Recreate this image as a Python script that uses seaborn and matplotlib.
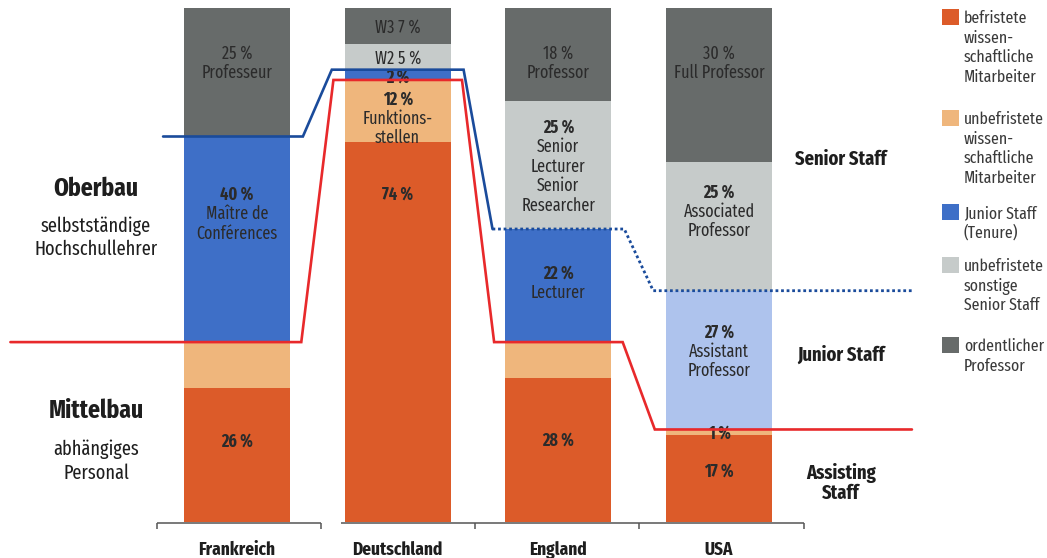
import matplotlib
matplotlib.use("Agg")
import matplotlib.pyplot as plt
import seaborn as sns
import numpy as np
from matplotlib.patches import Rectangle

# ---------------- data ----------------
countries = ["Frankreich", "Deutschland", "England", "USA"]
befristet = [26, 74, 28, 17]          # befristete wiss. Mitarbeiter
unbefristet = [9, 12, 7, 1]           # unbefristete wiss. Mitarbeiter
junior_tenure = [40, 2, 22, 0]        # Junior Staff (Tenure)
junior_other = [0, 0, 0, 27]          # Assistant Professor (USA)
senior_sonstige = [0, 5, 25, 25]      # unbefristete sonstige Senior Staff
professor = [25, 7, 18, 30]           # ordentlicher Professor

layers = [befristet, unbefristet, junior_tenure, junior_other, senior_sonstige, professor]

# bar labels: (country index, layer index, lines, bold first line)
bar_labels = [
    (0, 5, ["25 %", "Professeur"], False),
    (0, 2, ["40 %", "Maître de", "Conférences"], True),
    (0, 0, ["26 %"], True),
    (1, 5, ["W3 7 %"], False),
    (1, 4, ["W2 5 %"], False),
    (1, 2, ["2 %"], True),
    (1, 1, ["12 %", "Funktions-", "stellen"], True),
    (1, 0, ["74 %"], True),
    (2, 5, ["18 %", "Professor"], False),
    (2, 4, ["25 %", "Senior", "Lecturer", "Senior", "Researcher"], True),
    (2, 2, ["22 %", "Lecturer"], True),
    (2, 0, ["28 %"], True),
    (3, 5, ["30 %", "Full Professor"], False),
    (3, 4, ["25 %", "Associated", "Professor"], True),
    (3, 3, ["27 %", "Assistant", "Professor"], True),
    (3, 1, ["1 %"], True),
    (3, 0, ["17 %"], True),
]
# vertical shift of each label from its segment centre (layout, in % units)
label_shift = [2.1, 5.3, 3.1, 0, 0, -0.2, -1.2, 27, -1.4, 0, 0.8, 2.3, 4.7, 3.2, 2.0, 0, 1.7]

legend_labels = [
    "befristete\nwissen-\nschaftliche\nMitarbeiter",
    "unbefristete\nwissen-\nschaftliche\nMitarbeiter",
    "Junior Staff\n(Tenure)",
    "unbefristete\nsonstige\nSenior Staff",
    "ordentlicher\nProfessor",
]

# ---------------- style ----------------
layer_colors = ["#dc5b29", "#efb67c", "#3e6fc7", "#aec3ed", "#c6cbca", "#676b6a"]
legend_colors = ["#dc5b29", "#efb67c", "#3e6fc7", "#c6cbca", "#676b6a"]
RED = "#e8292b"
DBLUE = "#1a4b9b"
TEXT = "#2b2b2b"

sns.set_style("white")
plt.rcParams["font.family"] = ["Fira Sans Extra Condensed", "Fira Sans Condensed",
                               "Liberation Sans", "DejaVu Sans"]

W, H = 1047, 558
fig = plt.figure(figsize=(W / 100, H / 100), dpi=100)
ax = fig.add_axes([0, 0, 1, 1])

# bars
bottom = np.zeros(len(countries))
for vals, col in zip(layers, layer_colors):
    sns.barplot(x=countries, y=vals, order=countries, color=col, saturation=1,
                width=0.66, bottom=bottom.copy(), linewidth=0, ax=ax, zorder=2)
    bottom += np.array(vals)

cum = np.cumsum(np.array(layers), axis=0)
bases = np.vstack([np.zeros(len(countries)), cum[:-1]])

# x / y scale to match reference geometry
px_per_unit = 160.7
px_per_pct = 5.14
ax.set_xlim(-237 / px_per_unit, (W - 237) / px_per_unit)
ax.set_ylim(-(H - 522) / px_per_pct, 522 / px_per_pct)
ax.axis("off")

# bar labels
LH = 14  # line height in points
def block(x, yc, lines, bold_first, size=12.6):
    n = len(lines)
    for i, line in enumerate(lines):
        off = ((n - 1) / 2 - i) * LH
        ax.annotate(line, (x, yc), xytext=(0, off), textcoords="offset points",
                    ha="center", va="center_baseline", fontsize=size,
                    fontweight="bold" if (i == 0 and bold_first) else "normal",
                    color=TEXT, zorder=3)

for (ci, li, lines, bf), sh in zip(bar_labels, label_shift):
    yc = bases[li, ci] + layers[li][ci] / 2 + sh
    block(ci, yc, lines, bf)

# red line (Oberbau / Mittelbau boundary)
mittel_top = cum[1]
d = 0.4
rx, ry = [], []
for i, v in enumerate(mittel_top):
    rx += [i - d, i + d]
    ry += [v, v]
rx[0] = -1.41
rx[-1] = 4.2
ax.plot(rx, ry, color=RED, lw=1.9, zorder=4, solid_joinstyle="miter")

# blue line (Senior / Junior boundary)
junior_top = cum[3]
d = 0.41
bx_s = [-0.46, 0 + d, 1 - d, 1 + d, 2 - d]
by_s = [junior_top[0], junior_top[0], junior_top[1], junior_top[1], junior_top[2]]
ax.plot(bx_s, by_s, color=DBLUE, lw=1.9, zorder=4, solid_joinstyle="miter")
bx_d = [2 - d, 2 + d, 3 - d, 4.2]
by_d = [junior_top[2], junior_top[2], junior_top[3], junior_top[3]]
ax.plot(bx_d, by_d, color=DBLUE, lw=2.0, ls=(0, (1, 1.0)), zorder=4)

# x axis
AX = "#555555"
ax.hlines(-0.2, -0.5, 0.52, color=AX, lw=1.1, zorder=3)
ax.hlines(-0.2, 0.65, 3.53, color=AX, lw=1.1, zorder=3)
ax.vlines([-0.5, 0.52, 1.48, 2.5, 3.53], -1.3, -0.2, color=AX, lw=1.1, zorder=3)
for i, c in enumerate(countries):
    ax.text(i, -5.06, c, ha="center", va="center_baseline", fontsize=13.5,
            fontweight="bold", color="#1e1e1e")

# helper for pixel-positioned text
def ptext(x, y, s, **kw):
    fig.text(x / W, 1 - y / H, s, ha=kw.pop("ha", "center"),
             va=kw.pop("va", "center_baseline"), color=kw.pop("color", "#1e1e1e"), **kw)

# left annotations
ptext(96, 186, "Oberbau", fontsize=18.5, fontweight="bold")
ptext(96, 224, "selbstständige", fontsize=14.3)
ptext(96, 247, "Hochschullehrer", fontsize=14.3)
ptext(96, 408, "Mittelbau", fontsize=18.5, fontweight="bold")
ptext(96, 447, "abhängiges", fontsize=14.3)
ptext(96, 471, "Personal", fontsize=14.3)

# right annotations
ptext(841, 157, "Senior Staff", fontsize=14.5, fontweight="bold")
ptext(841, 353, "Junior Staff", fontsize=14.5, fontweight="bold")
ptext(841, 471, "Assisting", fontsize=14.5, fontweight="bold")
ptext(841, 491, "Staff", fontsize=14.5, fontweight="bold")

# legend
sq_tops = [9, 110, 204, 257, 337]
for top, lab, col in zip(sq_tops, legend_labels, legend_colors):
    fig.patches.append(Rectangle((942 / W, 1 - (top + 16) / H), 17 / W, 16 / H,
                                 transform=fig.transFigure, facecolor=col,
                                 edgecolor="none"))
    for j, line in enumerate(lab.split("\n")):
        ptext(964, top + 8 + j * 19.4, line, ha="left", fontsize=12.4, color="#3a3a3a")

fig.savefig("out.png", dpi=100, facecolor="white")
